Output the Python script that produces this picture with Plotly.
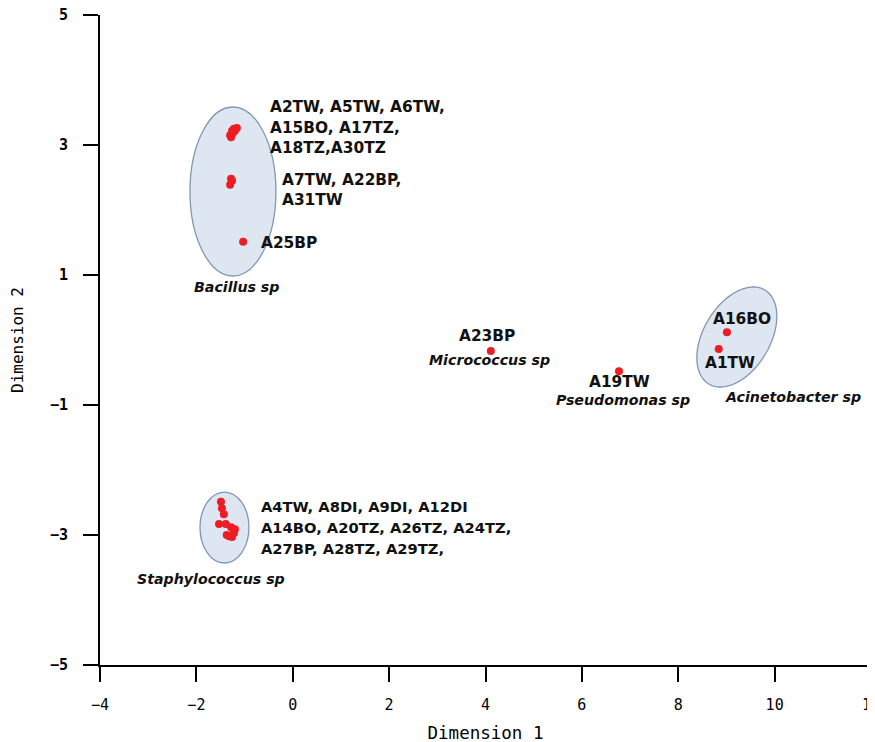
import numpy as np
import plotly.graph_objects as go

# ---------------- data ----------------
bacillus_x = [-1.16, -1.22, -1.26, -1.20, -1.30, -1.28, -1.24, -1.28, -1.26, -1.30, -1.03]
bacillus_y = [3.26, 3.25, 3.22, 3.22, 3.15, 3.12, 3.19, 2.48, 2.45, 2.39, 1.51]

staph_x = [-1.49, -1.47, -1.43, -1.53, -1.39, -1.28, -1.20, -1.37, -1.26, -1.32, -1.22]
staph_y = [-2.49, -2.59, -2.68, -2.83, -2.83, -2.88, -2.91, -3.00, -3.03, -3.02, -2.97]

micrococcus_x = [4.11]
micrococcus_y = [-0.17]
pseudomonas_x = [6.77]
pseudomonas_y = [-0.48]
acineto_x = [9.01, 8.84]
acineto_y = [0.12, -0.14]

x_ticks = [-4, -2, 0, 2, 4, 6, 8, 10, 12]
y_ticks = [-5, -3, -1, 1, 3, 5]

# strain labels: (text, x, y, xanchor, font size)
strain_labels = [
    ("A2TW, A5TW, A6TW,", -0.515, 3.585, "left", 15.4),
    ("A15BO, A17TZ,", -0.515, 3.262, "left", 15.4),
    ("A18TZ,A30TZ", -0.515, 2.954, "left", 15.4),
    ("A7TW, A22BP,", -0.266, 2.462, "left", 15.4),
    ("A31TW", -0.266, 2.154, "left", 15.4),
    ("A25BP", -0.701, 1.492, "left", 15.4),
    ("A4TW, A8DI, A9DI, A12DI", -0.701, -2.554, "left", 14.7),
    ("A14BO, A20TZ, A26TZ, A24TZ,", -0.701, -2.877, "left", 14.7),
    ("A27BP, A28TZ, A29TZ,", -0.701, -3.20, "left", 14.7),
    ("A23BP", 4.03, 0.062, "center", 15.4),
    ("A19TW", 6.79, -0.646, "center", 15.4),
    ("A16BO", 9.32, 0.323, "center", 15.4),
    ("A1TW", 9.07, -0.354, "center", 15.4),
]
species_labels = [
    ("Bacillus sp", -2.091, 0.815, "left"),
    ("Staphylococcus sp", -3.274, -3.677, "left"),
    ("Micrococcus sp", 4.09, -0.308, "center"),
    ("Pseudomonas sp", 6.85, -0.923, "center"),
    ("Acinetobacter sp", 10.38, -0.877, "center"),
]

# ---------------- styling / layout constants ----------------
W, H = 875, 742
ML, MR, MT, MB = 92, 12, 7, 85
XR = [-4, 12]
YR = [-5, 5]
PX_X = (W - ML - MR) / (XR[1] - XR[0])
PX_Y = (H - MT - MB) / (YR[1] - YR[0])

FILL = "#dde6f1"
EDGE = "#8197b2"
RED = "#ee1c24"

fig = go.Figure()

# cluster ellipses
fig.add_shape(type="circle", xref="x", yref="y", x0=-2.133, x1=-0.349, y0=0.985, y1=3.585,
              fillcolor=FILL, line=dict(color=EDGE, width=1.3), layer="below")
fig.add_shape(type="circle", xref="x", yref="y", x0=-1.925, x1=-0.909, y0=-3.431, y1=-2.339,
              fillcolor=FILL, line=dict(color=EDGE, width=1.3), layer="below")

# tilted ellipse (Acinetobacter), defined in pixel-space semi-axes
cx, cy = 9.216, 0.046
a_px, b_px, theta = 54.7, 33.3, np.deg2rad(59.3)
t = np.linspace(0, 2 * np.pi, 121)
ex = a_px * np.cos(t) * np.cos(theta) - b_px * np.sin(t) * np.sin(theta)
ey = a_px * np.cos(t) * np.sin(theta) + b_px * np.sin(t) * np.cos(theta)
path_x = cx + ex / PX_X
path_y = cy + ey / PX_Y
path = "M " + " L ".join(f"{px:.4f},{py:.4f}" for px, py in zip(path_x, path_y)) + " Z"
fig.add_shape(type="path", path=path, xref="x", yref="y",
              fillcolor=FILL, line=dict(color=EDGE, width=1.3), layer="below")

all_x = bacillus_x + staph_x + micrococcus_x + pseudomonas_x + acineto_x
all_y = bacillus_y + staph_y + micrococcus_y + pseudomonas_y + acineto_y
fig.add_trace(go.Scatter(x=all_x, y=all_y, mode="markers",
                         marker=dict(color=RED, size=8, line=dict(width=0)),
                         showlegend=False, hoverinfo="x+y"))

for txt, x, y, xa, fs in strain_labels:
    fig.add_annotation(x=x, y=y, xref="x", yref="y", text=txt, showarrow=False,
                       xanchor=xa, yanchor="middle",
                       font=dict(family="DejaVu Sans", size=fs, color="#111111", weight="bold"))
for txt, x, y, xa in species_labels:
    fig.add_annotation(x=x, y=y, xref="x", yref="y", text=txt, showarrow=False,
                       xanchor=xa, yanchor="middle",
                       font=dict(family="DejaVu Sans", size=14.2, color="#111111",
                                 weight="bold", style="italic"))

axis_common = dict(showgrid=False, zeroline=False, showline=True, linecolor="black",
                   linewidth=2, ticks="outside", ticklen=15, tickwidth=2, tickcolor="black",
                   mirror=False, automargin=False, ticklabeloverflow="allow")

fig.update_xaxes(range=XR, tickvals=x_ticks, **axis_common,
                 tickfont=dict(family="DejaVu Sans Mono", size=15, color="black"),
                 ticklabelstandoff=10,
                 title=dict(text="Dimension 1", standoff=14,
                            font=dict(family="DejaVu Sans Mono", size=17.5, color="black")))
fig.update_yaxes(range=YR, tickvals=y_ticks, **axis_common,
                 tickfont=dict(family="DejaVu Sans Mono", size=15, color="black", weight="bold"),
                 ticklabelstandoff=12,
                 title=dict(text="Dimension 2", standoff=22,
                            font=dict(family="DejaVu Sans Mono", size=16, color="black")))

fig.update_layout(width=W, height=H, margin=dict(l=ML, r=MR, t=MT, b=MB, autoexpand=False),
                  plot_bgcolor="white", paper_bgcolor="white", showlegend=False)

fig.write_html("out.html")
